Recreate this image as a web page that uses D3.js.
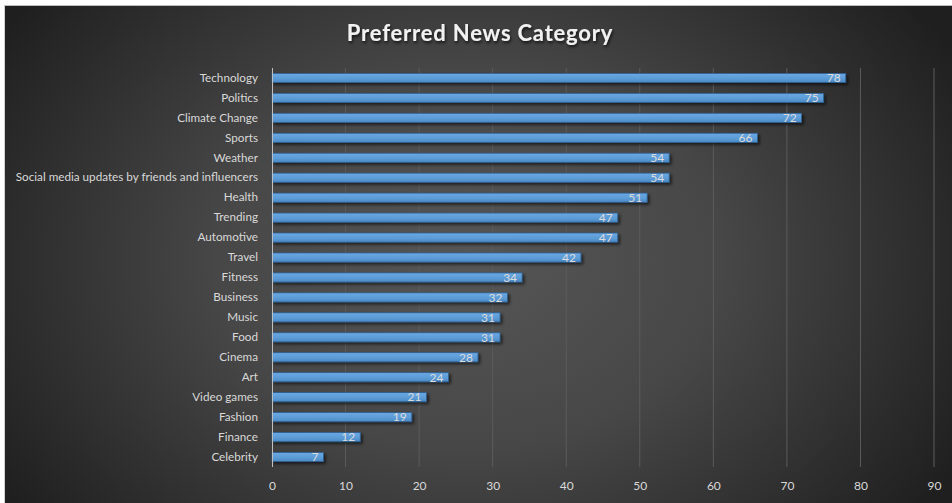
<!DOCTYPE html>
<html>
<head>
<meta charset="utf-8">
<script src="https://cdn.jsdelivr.net/npm/d3@7"></script>
<style>
  html, body { margin: 0; padding: 0; background: #ffffff; }
  svg { display: block; }
</style>
</head>
<body>
<svg id="chart" width="952" height="503"></svg>
<script>
// Survey results: share of respondents preferring each news category
const categories = [
  "Technology", "Politics", "Climate Change", "Sports", "Weather",
  "Social media updates by friends and influencers", "Health", "Trending",
  "Automotive", "Travel", "Fitness", "Business", "Music", "Food", "Cinema",
  "Art", "Video games", "Fashion", "Finance", "Celebrity"
];
const values = [78, 75, 72, 66, 54, 54, 51, 47, 47, 42, 34, 32, 31, 31, 28, 24, 21, 19, 12, 7];
const xTicks = [0, 10, 20, 30, 40, 50, 60, 70, 80, 90];
const chartTitle = "Preferred News Category";

const W = 952, H = 503;
const margin = { top: 68, right: 18, bottom: 36, left: 272 };
const svg = d3.select("#chart");
const defs = svg.append("defs");

// Dark radial background with a lighter centre
const bg = defs.append("radialGradient").attr("id", "bgGrad")
  .attr("gradientUnits", "userSpaceOnUse")
  .attr("cx", 470).attr("cy", 260).attr("r", 560)
  .attr("gradientTransform", "translate(470 260) scale(1 0.75) translate(-470 -260)");
bg.append("stop").attr("offset", "0%").attr("stop-color", "#565656");
bg.append("stop").attr("offset", "45%").attr("stop-color", "#474747");
bg.append("stop").attr("offset", "100%").attr("stop-color", "#1f1f1f");

const barGrad = defs.append("linearGradient").attr("id", "barGrad")
  .attr("x1", 0).attr("y1", 0).attr("x2", 0).attr("y2", 1);
barGrad.append("stop").attr("offset", "0%").attr("stop-color", "#6aa8e4");
barGrad.append("stop").attr("offset", "60%").attr("stop-color", "#5b9bd5");
barGrad.append("stop").attr("offset", "100%").attr("stop-color", "#4a88c4");

const shadow = defs.append("filter").attr("id", "barShadow")
  .attr("x", "-5%").attr("y", "-50%").attr("width", "115%").attr("height", "250%");
shadow.append("feDropShadow").attr("dx", 2).attr("dy", 2).attr("stdDeviation", 1.5)
  .attr("flood-color", "#000").attr("flood-opacity", 0.6);

const titleShadow = defs.append("filter").attr("id", "titleShadow")
  .attr("x", "-10%").attr("y", "-50%").attr("width", "120%").attr("height", "200%");
titleShadow.append("feDropShadow").attr("dx", 1).attr("dy", 2).attr("stdDeviation", 1.5)
  .attr("flood-color", "#000").attr("flood-opacity", 0.7);

svg.append("rect").attr("x", 4).attr("y", 5).attr("width", W - 4).attr("height", H - 5)
  .attr("fill", "url(#bgGrad)");
svg.append("line").attr("x1", 4).attr("x2", W).attr("y1", 5.5).attr("y2", 5.5)
  .attr("stroke", "#bdbdbd").attr("stroke-width", 1);
svg.append("line").attr("x1", 4.5).attr("x2", 4.5).attr("y1", 5).attr("y2", H)
  .attr("stroke", "#d0d0d0").attr("stroke-width", 1);

const x = d3.scaleLinear().domain([0, 90]).range([margin.left, 934]);
const y = d3.scaleBand().domain(categories)
  .range([margin.top, H - margin.bottom]).paddingInner(0.54).paddingOuter(0.27);

const font = "Lato, 'Open Sans', sans-serif";

// Title
svg.append("text")
  .attr("x", 480).attr("y", 41)
  .attr("text-anchor", "middle")
  .attr("font-family", font).attr("font-weight", "bold").attr("font-size", 22)
  .attr("fill", "#f2f2f2").attr("letter-spacing", 0.8)
  .attr("filter", "url(#titleShadow)")
  .text(chartTitle);

// Vertical gridlines
svg.append("g").selectAll("line").data(xTicks.filter(d => d > 0)).join("line")
  .attr("x1", d => x(d)).attr("x2", d => x(d))
  .attr("y1", margin.top).attr("y2", H - margin.bottom)
  .attr("stroke", "#5c5c5c").attr("stroke-width", 1);

// X axis labels
const xAxis = d3.axisBottom(x).tickValues(xTicks).tickSize(0).tickPadding(0);
const gx = svg.append("g").attr("transform", `translate(0, ${H - margin.bottom + 14})`).call(xAxis);
gx.select(".domain").remove();
gx.selectAll("text").attr("font-family", font).attr("font-size", 12).attr("fill", "#d9d9d9")
  .attr("dy", "0.71em");

// Y axis (category labels)
const yAxis = d3.axisLeft(y).tickSize(0).tickPadding(14);
const gy = svg.append("g").attr("transform", `translate(${margin.left}, 0)`).call(yAxis);
gy.select(".domain").remove();
gy.selectAll("text").attr("font-family", font).attr("font-size", 11.7).attr("fill", "#d9d9d9");

// Bars
const bars = svg.append("g");
bars.selectAll("rect").data(categories).join("rect")
  .attr("x", x(0))
  .attr("y", d => y(d))
  .attr("width", (d, i) => x(values[i]) - x(0))
  .attr("height", y.bandwidth())
  .attr("fill", "url(#barGrad)")
  .attr("stroke", "#2f5f8f").attr("stroke-width", 0.8)
  .attr("filter", "url(#barShadow)");

// Baseline
svg.append("line").attr("x1", x(0) + 0.5).attr("x2", x(0) + 0.5)
  .attr("y1", margin.top).attr("y2", H - margin.bottom)
  .attr("stroke", "#bfbfbf").attr("stroke-width", 1);

// Value labels at the inside end of each bar
svg.append("g").selectAll("text").data(categories).join("text")
  .attr("x", (d, i) => x(values[i]) - 5)
  .attr("y", d => y(d) + y.bandwidth() / 2)
  .attr("dy", "0.36em")
  .attr("text-anchor", "end")
  .attr("font-family", font).attr("font-size", 12)
  .attr("fill", "#dcdcdc")
  .text((d, i) => values[i]);
</script>
</body>
</html>
